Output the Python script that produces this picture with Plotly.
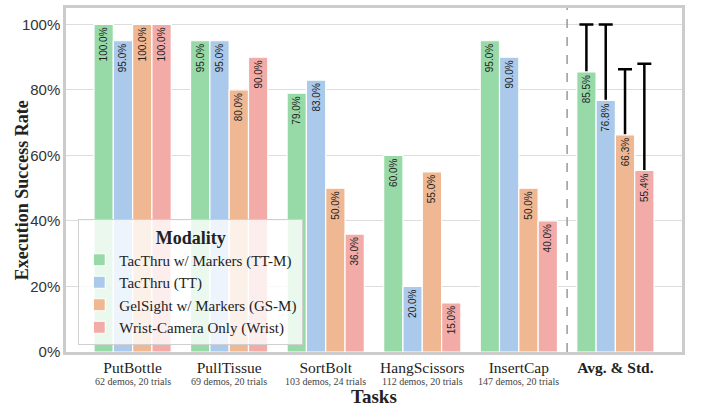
import plotly.graph_objects as go

# Task names, per-task demo/trial counts, and success rates (%) per modality
tasks = ["PutBottle", "PullTissue", "SortBolt", "HangScissors", "InsertCap", "Avg. & Std."]
task_notes = ["62 demos, 20 trials", "69 demos, 20 trials", "103 demos, 24 trials",
              "112 demos, 20 trials", "147 demos, 20 trials", ""]

series_names = ["TacThru w/ Markers (TT-M)", "TacThru (TT)",
                "GelSight w/ Markers (GS-M)", "Wrist-Camera Only (Wrist)"]
tt_m = [100.0, 95.0, 79.0, 60.0, 95.0, 85.5]
tt = [95.0, 95.0, 83.0, 20.0, 90.0, 76.8]
gs_m = [100.0, 80.0, 50.0, 55.0, 50.0, 66.3]
wrist = [100.0, 90.0, 36.0, 15.0, 40.0, 55.4]
# standard deviation of each modality across tasks (shown on the average bar)
std_dev = [14.5, 23.2, 20.0, 32.6]

colors = ["#98daa7", "#abc9ea", "#efb792", "#f3aba8"]
series_values = [tt_m, tt, gs_m, wrist]

SERIF = "Liberation Serif"
SANS = "Liberation Sans"

fig = go.Figure()

# Error bars first so the bars drawn afterwards hide their lower halves
for name, vals, sd, col in zip(series_names, series_values, std_dev, colors):
    fig.add_trace(go.Bar(
        x=[tasks[-1]], y=[vals[-1]], offsetgroup=name,
        marker=dict(color=col, line=dict(color="white", width=1.2)),
        error_y=dict(type="data", array=[sd], visible=True,
                     color="black", thickness=2.5, width=7),
        showlegend=False, hoverinfo="skip",
    ))

for name, vals, col in zip(series_names, series_values, colors):
    fig.add_trace(go.Bar(
        x=tasks, y=vals, name=name, offsetgroup=name,
        marker=dict(color=col, line=dict(color="white", width=1.2)),
        text=[f"{v:.1f}%" for v in vals],
        textposition="inside", insidetextanchor="end", textangle=-90,
        constraintext="none",
        textfont=dict(family=SANS, size=10, color="#222222"),
    ))

# Separator between the tasks and the summary group
fig.add_shape(type="line", xref="x", yref="paper", x0=4.5, x1=4.5, y0=0, y1=1,
              line=dict(color="#999999", width=1.5, dash="dash"), layer="above")

# Demo / trial counts under each task name
for t, note in zip(tasks, task_notes):
    if note:
        fig.add_annotation(x=t, xref="x", y=-0.085, yref="paper", text=note,
                           showarrow=False, yanchor="middle",
                           font=dict(family=SERIF, size=10, color="#444444"))

# Axis titles
fig.add_annotation(x=-0.0715, xref="paper", y=0.47, yref="paper",
                   text="<b>Execution Success Rate</b>", textangle=-90,
                   showarrow=False, xanchor="center", yanchor="middle",
                   font=dict(family=SERIF, size=18, color="#222222"))
fig.add_annotation(x=0.5, xref="paper", y=-0.128, yref="paper",
                   text="<b>Tasks</b>", showarrow=False,
                   xanchor="center", yanchor="middle",
                   font=dict(family=SERIF, size=19, color="#222222"))

ticktext = [t if i < len(tasks) - 1 else f"<b>{t}</b>" for i, t in enumerate(tasks)]

fig.update_layout(
    width=702, height=406,
    margin=dict(l=66, r=20, t=8, b=54),
    plot_bgcolor="white", paper_bgcolor="white",
    barmode="group", bargap=0.2, bargroupgap=0,
    showlegend=True,
    legend=dict(
        x=0.02, y=0.02, xanchor="left", yanchor="bottom",
        bgcolor="rgba(255,255,255,0.8)", bordercolor="#d0d0d0", borderwidth=1,
        font=dict(family=SERIF, size=15, color="#222222"),
        title=dict(text="<b>Modality</b>", side="top center",
                   font=dict(family=SERIF, size=18, color="#222222")),
        tracegroupgap=0, itemwidth=30,
    ),
    xaxis=dict(
        type="category", categoryorder="array", categoryarray=tasks,
        range=[-0.69, 5.69], automargin=False,
        tickvals=tasks, ticktext=ticktext,
        tickfont=dict(family=SERIF, size=15.5, color="#222222"),
        showline=True, mirror=True, linecolor="#cccccc", linewidth=2.5,
        showgrid=False, ticks="",
    ),
    yaxis=dict(
        range=[0, 105], tickvals=[0, 20, 40, 60, 80, 100], automargin=False,
        ticktext=["0%", "20%", "40%", "60%", "80%", "100%"],
        tickfont=dict(family=SANS, size=15, color="#333333"),
        showline=True, mirror=True, linecolor="#cccccc", linewidth=2.5,
        showgrid=True, gridcolor="#dddddd", gridwidth=1.2, zeroline=False,
        ticks="", ticklabelstandoff=0,
    ),
)

fig.write_html("out.html")
